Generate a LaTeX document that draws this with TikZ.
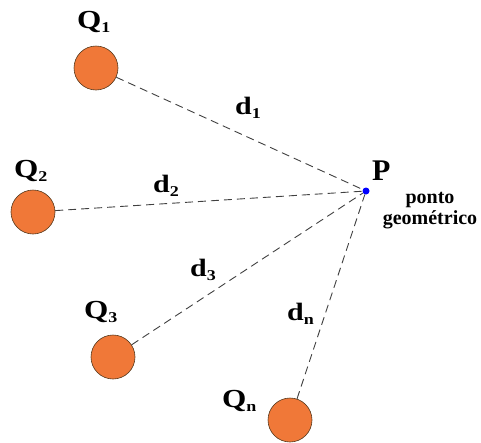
\documentclass[tikz,border=0pt]{standalone}
\usepackage{fontspec}
\setmainfont{Liberation Serif}
\newfontfamily\widefont[FakeStretch=1.2]{Liberation Serif}
\newcommand{\lsub}[1]{\raisebox{-4.5pt}{\fontsize{15}{15}\selectfont #1}}
\begin{document}
\begin{tikzpicture}[x=1pt,y=-1pt,
  charge/.style={circle,draw=black!55!brown,line width=0.6pt,fill={rgb,255:red,240;green,120;blue,56},minimum size=44pt,inner sep=0pt},
  lbl/.style={font=\widefont\bfseries\fontsize{26}{28}\selectfont,inner sep=0pt,anchor=base west},
  dlbl/.style={font=\widefont\bfseries\fontsize{25}{27}\selectfont,inner sep=0pt,anchor=base west},
  conn/.style={draw=black!75,dash pattern=on 8pt off 5pt,line width=0.9pt}]
\useasboundingbox (0,0) rectangle (481,442);
\node[charge] (q1) at (96,68) {};
\node[charge] (q2) at (33,212) {};
\node[charge] (q3) at (113,357) {};
\node[charge] (qn) at (290,420) {};
\node[circle,fill=blue,minimum size=7pt,inner sep=0pt] (p) at (366,191) {};
\node[lbl] (lq1) at (77,28) {Q\lsub{1}};
\node[lbl] (lq2) at (14,177) {Q\lsub{2}};
\node[lbl] (lq3) at (84,318) {Q\lsub{3}};
\node[lbl] (lqn) at (222,407) {Q\lsub{n}};
\node[font=\bfseries\fontsize{30}{32}\selectfont,inner sep=0pt,anchor=base west] (lp) at (372,180) {P};
\node[font=\bfseries\fontsize{20}{21}\selectfont,align=center,inner sep=0pt] (pg) at (430,211) {ponto\\geométrico};
\node[dlbl] (d1) at (235,114) {d\lsub{1}};
\node[dlbl] (d2) at (153,192) {d\lsub{2}};
\node[dlbl] (d3) at (190,276) {d\lsub{3}};
\node[dlbl] (dn) at (287,320) {d\lsub{n}};
\draw[conn] (q1) -- (p);
\draw[conn] (q2) -- (p);
\draw[conn] (q3) -- (p);
\draw[conn] (qn) -- (p);
\end{tikzpicture}
\end{document}
